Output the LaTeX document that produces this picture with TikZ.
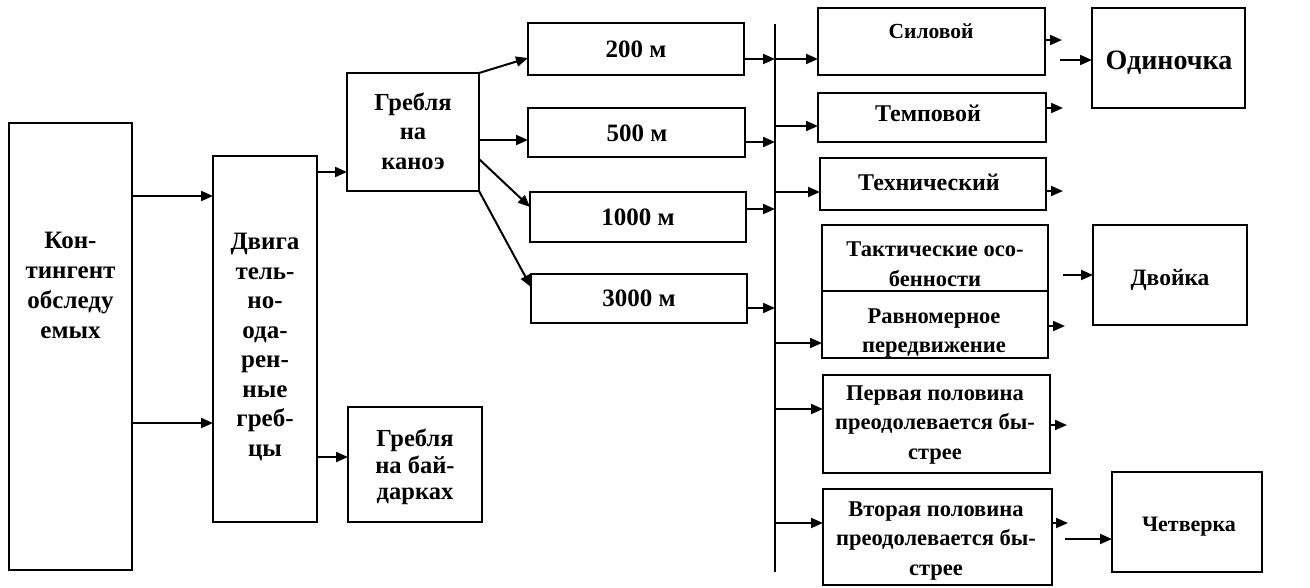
\documentclass[tikz,border=0pt]{standalone}
\usepackage{fontspec}
\setmainfont{Liberation Serif}
\usetikzlibrary{arrows.meta,fit}
\begin{document}
\begin{tikzpicture}[x=1pt,y=-1pt,
  box/.style={draw, line width=2.2pt, inner sep=0pt, outer sep=0pt},
  txt/.style={font=\bfseries\fontsize{22}{29}\selectfont, align=center, inner sep=0pt},
  fs/.style={font=\bfseries\fontsize{#1}{29.5}\selectfont},
  arr/.style={line width=2pt, -{Triangle[length=12pt,width=10pt]}},
  ln/.style={line width=2.2pt}]
\useasboundingbox (0,0) rectangle (1310,587);
% boxes
\node[box, fit={(9,123)(132,570)}] (k) {};
\node[box, fit={(213,156)(317,522)}] (d) {};
\node[box, fit={(347,73)(479,191)}] (c) {};
\node[box, fit={(348,407)(482,522)}] (b) {};
\node[box, fit={(528,23)(744,75)}] (m200) {};
\node[box, fit={(528,108)(745,157)}] (m500) {};
\node[box, fit={(530,192)(746,242)}] (m1000) {};
\node[box, fit={(531,274)(747,323)}] (m3000) {};
\node[box, fit={(818,8)(1045,75)}] (sil) {};
\node[box, fit={(818,93)(1046,142)}] (tem) {};
\node[box, fit={(820,158)(1046,210)}] (teh) {};
\node[box, fit={(822,225)(1048,358)}] (tak) {};
\node[box, fit={(823,375)(1050,473)}] (per) {};
\node[box, fit={(823,489)(1052,585)}] (vto) {};
\node[box, fit={(1092,8)(1245,108)}] (od) {};
\node[box, fit={(1093,225)(1247,325)}] (dv) {};
\node[box, fit={(1112,472)(1262,572)}] (ch) {};
\draw[ln] (tak.west |- 0,291) -- (tak.east |- 0,291);
% texts
\node[txt, font=\bfseries\fontsize{25}{30}\selectfont] (kt) at (70.5,285) {Кон-\\тингент\\обследу\\емых};
\node[txt, fs=25] (dt) at (265,347) {Двига\\тель-\\но-\\ода-\\рен-\\ные\\греб-\\цы};
\node[txt, fs=24.5] (ct) at (413,131) {Гребля\\на\\каноэ};
\node[txt, font=\bfseries\fontsize{24.5}{26.5}\selectfont] (bt) at (415,467) {Гребля\\на бай-\\дарках};
\node[txt, fs=25] (t200) at (636,49) {200 м};
\node[txt, fs=25] (t500) at (637,133) {500 м};
\node[txt, fs=25] (t1000) at (638,217) {1000 м};
\node[txt, fs=25] (t3000) at (639,298) {3000 м};
\node[txt, fs=21.5] (silt) at (931,31) {Силовой};
\node[txt, fs=24] (temt) at (928,113) {Темповой};
\node[txt, fs=24] (teht) at (929,182) {Технический};
\node[txt, fs=22.5] (takt) at (935,264) {Тактические осо-\\бенности};
\node[txt, fs=22.5] (ravt) at (934,333) {Равномерное\\передвижение};
\node[txt, fs=22.5] (pert) at (935,425) {Первая половина\\преодолевается бы-\\стрее};
\node[txt, fs=22.5] (vtot) at (936,541) {Вторая половина\\преодолевается бы-\\стрее};
\node[txt, fs=28] (odt) at (1169,63) {Одиночка};
\node[txt, fs=23.5] (dvt) at (1170,280) {Двойка};
\node[txt, fs=22] (cht) at (1189,527) {Четверка};
% bus
\coordinate (bust) at (775,24);
\coordinate (busb) at (775,572);
\draw[ln] (bust) -- (busb);
% left arrows
\draw[arr] (k.east |- 0,196) -- (d.west |- 0,196);
\draw[arr] (k.east |- 0,423) -- (d.west |- 0,423);
\draw[arr] (d.east |- 0,172) -- (c.west |- 0,172);
\draw[arr] (d.east |- 0,457) -- (b.west |- 0,457);
\draw[arr] (c.north east) -- (m200.west |- 0,58);
\draw[arr] (c.east |- 0,140) -- (m500.west |- 0,140);
\draw[arr] (c.east |- 0,159) -- (m1000.west |- 0,207);
\draw[arr] (c.south east) -- (m3000.west |- 0,287);
% to bus
\draw[arr] (m200.east |- 0,59) -- (bust |- 0,59);
\draw[arr] (m500.east |- 0,142) -- (bust |- 0,142);
\draw[arr] (m1000.east |- 0,209) -- (bust |- 0,209);
\draw[arr] (m3000.east |- 0,308) -- (bust |- 0,308);
% from bus
\draw[arr] (bust |- 0,59) -- (sil.west |- 0,59);
\draw[arr] (bust |- 0,126) -- (tem.west |- 0,126);
\draw[arr] (bust |- 0,192) -- (teh.west |- 0,192);
\draw[arr] (bust |- 0,343) -- (tak.west |- 0,343);
\draw[arr] (bust |- 0,409) -- (per.west |- 0,409);
\draw[arr] (bust |- 0,523) -- (vto.west |- 0,523);
% stubs
\coordinate (s1) at (1062,40);
\coordinate (s2) at (1063,108);
\coordinate (s3) at (1063,191);
\coordinate (s4) at (1065,326);
\coordinate (s5) at (1067,425);
\coordinate (s6) at (1068,523);
\draw[arr] (sil.east |- s1) -- (s1);
\draw[arr] (tem.east |- s2) -- (s2);
\draw[arr] (teh.east |- s3) -- (s3);
\draw[arr] (tak.east |- s4) -- (s4);
\draw[arr] (per.east |- s5) -- (s5);
\draw[arr] (vto.east |- s6) -- (s6);
% to result boxes
\coordinate (o1) at (1060,60);
\coordinate (o2) at (1063,275);
\coordinate (o3) at (1065,539);
\draw[arr] (o1) -- (od.west |- o1);
\draw[arr] (o2) -- (dv.west |- o2);
\draw[arr] (o3) -- (ch.west |- o3);
\end{tikzpicture}
\end{document}
